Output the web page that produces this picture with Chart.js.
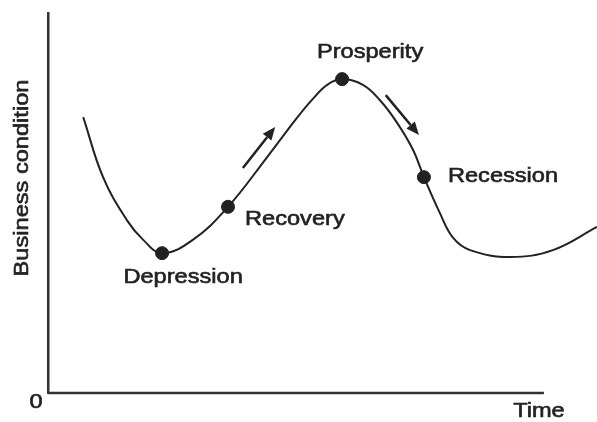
<!DOCTYPE html>
<html>
<head>
<meta charset="utf-8">
<script src="https://cdn.jsdelivr.net/npm/chart.js@4/dist/chart.umd.min.js"></script>
<style>
  html, body { margin: 0; padding: 0; background: #fff; }
  #chart { display: block; }
</style>
</head>
<body>
<canvas id="chart" width="597" height="422"></canvas>
<script>
// business cycle curve (time axis ends at 100, curve runs on past it)
const curveTime = [7.1, 11.1, 15.9, 19.2, 23.0, 29.2, 36.3, 44.2, 50.2, 53.4, 56.3, 59.3, 63.5, 66.9, 70.4, 73.6, 75.8, 79.0, 81.7, 85.1, 93.2, 101.8, 110.7];
const curveLevel = [72.6, 56.8, 45.5, 40.3, 36.8, 40.3, 49.0, 62.1, 72.4, 77.4, 81.1, 82.6, 81.1, 77.1, 71.1, 64.0, 56.8, 47.4, 40.8, 37.6, 35.8, 37.6, 43.7];
const axisEnd = 100;

// phase markers
const phaseNames = ['Depression', 'Recovery', 'Prosperity', 'Recession'];
const phaseTime = [23.0, 36.3, 59.3, 75.8];
const phaseLevel = [36.8, 49.0, 82.6, 56.8];

// arrows showing direction: [fromTime, fromLevel, toTime, toLevel]
const arrows = [
  [39.3, 59.2, 45.8, 70.0],
  [68.1, 78.4, 74.8, 67.9]
];

const INK = '#222';
const FONT = '20px "Liberation Sans", Arial, sans-serif';
const STRETCH = 1.18;

// label placement relative to its dot (pixels)
const labelOffsets = {
  'Depression': { dx: 21, dy: 24, align: 'center' },
  'Recovery':   { dx: 17, dy: 13, align: 'left' },
  'Prosperity': { dx: 28, dy: -27, align: 'center' },
  'Recession':  { dx: 24, dy: -1, align: 'left' }
};

function stretchedText(ctx, text, x, y, align, rotate) {
  ctx.save();
  ctx.translate(x, y);
  if (rotate) ctx.rotate(rotate);
  ctx.scale(STRETCH, 1);
  ctx.font = FONT;
  ctx.fillStyle = INK;
  ctx.strokeStyle = INK;
  ctx.lineWidth = 0.6;
  ctx.textAlign = align;
  ctx.textBaseline = 'middle';
  ctx.fillText(text, 0, 0);
  ctx.strokeText(text, 0, 0);
  ctx.restore();
}

const annotate = {
  id: 'annotate',
  afterDraw(chart) {
    const ctx = chart.ctx;
    const xs = chart.scales.x, ys = chart.scales.y;
    const area = chart.chartArea;

    // x axis line stops short of the curve's end
    ctx.save();
    ctx.strokeStyle = '#333';
    ctx.lineWidth = 2.5;
    ctx.beginPath();
    ctx.moveTo(area.left, area.bottom);
    ctx.lineTo(xs.getPixelForValue(axisEnd), area.bottom);
    ctx.stroke();
    ctx.restore();

    // phase labels
    phaseNames.forEach((name, i) => {
      const o = labelOffsets[name];
      const px = xs.getPixelForValue(phaseTime[i]) + o.dx;
      const py = ys.getPixelForValue(phaseLevel[i]) + o.dy;
      stretchedText(ctx, name, px, py, o.align);
    });

    // arrows
    ctx.save();
    ctx.strokeStyle = INK;
    ctx.fillStyle = INK;
    ctx.lineWidth = 2.5;
    arrows.forEach(a => {
      const x1 = xs.getPixelForValue(a[0]), y1 = ys.getPixelForValue(a[1]);
      const x2 = xs.getPixelForValue(a[2]), y2 = ys.getPixelForValue(a[3]);
      const ang = Math.atan2(y2 - y1, x2 - x1);
      const head = 13, half = 5.5;
      const bx = x2 - head * Math.cos(ang), by = y2 - head * Math.sin(ang);
      ctx.beginPath();
      ctx.moveTo(x1, y1);
      ctx.lineTo(bx, by);
      ctx.stroke();
      ctx.beginPath();
      ctx.moveTo(x2, y2);
      ctx.lineTo(bx + half * Math.sin(ang), by - half * Math.cos(ang));
      ctx.lineTo(bx - half * Math.sin(ang), by + half * Math.cos(ang));
      ctx.closePath();
      ctx.fill();
    });
    ctx.restore();

    // axis texts
    const axisX = xs.getPixelForValue(axisEnd);
    stretchedText(ctx, '0', area.left - 12, area.bottom + 9, 'center');
    stretchedText(ctx, 'Time', axisX - 5, area.bottom + 18, 'center');
    stretchedText(ctx, 'Business condition', 22, (area.top + area.bottom) / 2 - 25, 'center', -Math.PI / 2);
  }
};

new Chart(document.getElementById('chart'), {
  type: 'scatter',
  data: {
    datasets: [
      {
        data: curveTime.map((t, i) => ({ x: t, y: curveLevel[i] })),
        showLine: true,
        borderColor: INK,
        borderWidth: 2,
        pointRadius: 0,
        tension: 0.4,
        clip: false
      },
      {
        data: phaseTime.map((t, i) => ({ x: t, y: phaseLevel[i] })),
        showLine: false,
        pointRadius: 6.5,
        pointBackgroundColor: INK,
        pointBorderColor: INK,
        clip: false
      }
    ]
  },
  options: {
    responsive: false,
    animation: false,
    events: [],
    layout: { autoPadding: false, padding: { top: 13, right: 0, left: 0, bottom: 0 } },
    plugins: { legend: { display: false }, tooltip: { enabled: false } },
    scales: {
      x: {
        type: 'linear', min: 0, max: curveTime[curveTime.length - 1],
        grid: { display: false },
        ticks: { display: false },
        border: { display: false },
        afterFit: s => { s.height = 29; }
      },
      y: {
        min: 0, max: 100,
        grid: { display: false },
        ticks: { display: false },
        border: { display: true, color: '#333', width: 2.5 },
        afterFit: s => { s.width = 48; }
      }
    }
  },
  plugins: [annotate]
});
</script>
</body>
</html>
